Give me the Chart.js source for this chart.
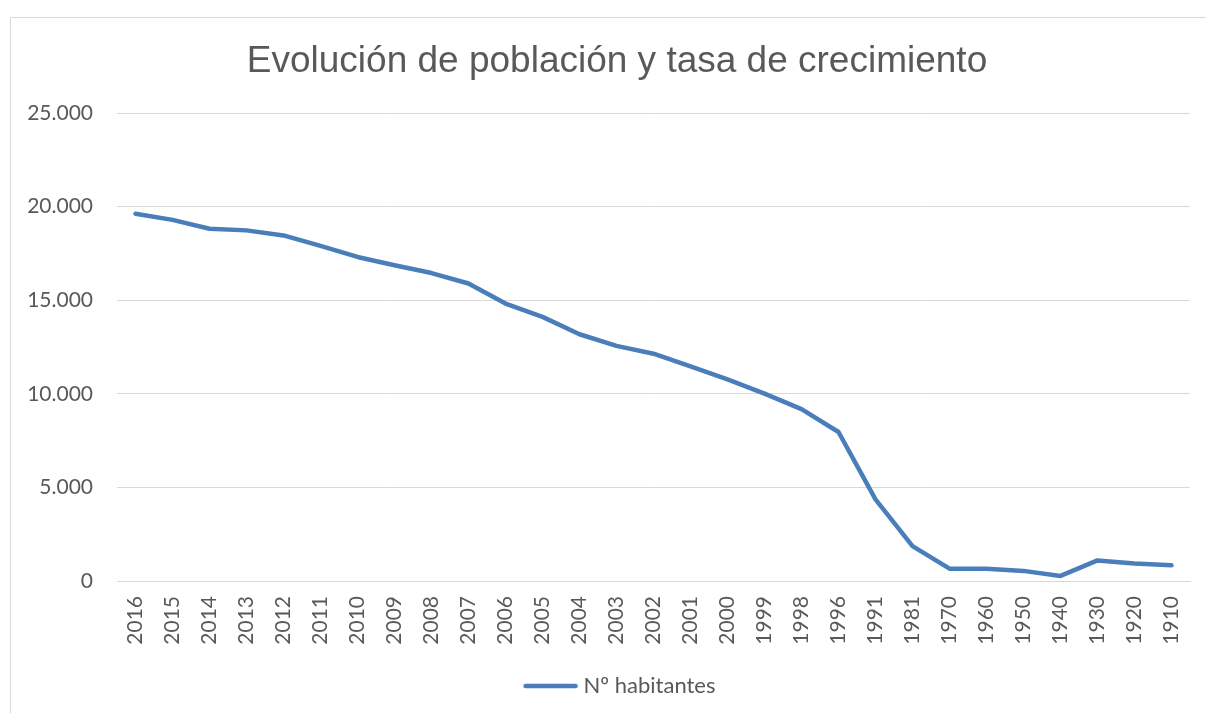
<!DOCTYPE html>
<html>
<head>
<meta charset="utf-8">
<title>Evolución de población</title>
<script src="https://cdn.jsdelivr.net/npm/chart.js@4.4.1/dist/chart.umd.min.js"></script>
<style>
    html, body { margin: 0; padding: 0; background: #fff; overflow: hidden; }
    #wrap {
        position: absolute; left: 10px; top: 17px;
        width: 1212px; height: 700px;
        border: 1px solid #d9d9d9;
    }
</style>
</head>
<body>
<div id="wrap"><canvas id="chart" width="1212" height="700"></canvas></div>
<script>
// Datos
var years = ['2016', '2015', '2014', '2013', '2012', '2011', '2010', '2009', '2008', '2007',
             '2006', '2005', '2004', '2003', '2002', '2001', '2000', '1999', '1998', '1996',
             '1991', '1981', '1970', '1960', '1950', '1940', '1930', '1920', '1910'];
var habitantes = [19620, 19290, 18820, 18730, 18460, 17900, 17310, 16870, 16450, 15890,
                  14820, 14110, 13180, 12560, 12140, 11470, 10770, 10010, 9180, 7960,
                  4360, 1860, 660, 650, 540, 270, 1100, 930, 840];
var yTicks = [0, 5000, 10000, 15000, 20000, 25000];

var textColor = '#595959';
var gridColor = '#d9d9d9';
var lineColor = '#4a7ebb';

function fmtMiles(v) {
    return String(v).replace(/\B(?=(\d{3})+(?!\d))/g, '.');
}

// muestra de leyenda: linea desplazada a la derecha para pegarla al texto
var legendLine = document.createElement('canvas');
legendLine.width = 66;
legendLine.height = 8;
(function () {
    var c = legendLine.getContext('2d');
    c.strokeStyle = lineColor;
    c.lineWidth = 4.5;
    c.lineCap = 'round';
    c.beginPath();
    c.moveTo(13, 4);
    c.lineTo(63, 4);
    c.stroke();
})();

new Chart(document.getElementById('chart').getContext('2d'), {
    type: 'line',
    data: {
        labels: years,
        datasets: [{
            label: 'Nº habitantes',
            data: habitantes,
            borderColor: lineColor,
            backgroundColor: lineColor,
            borderWidth: 4.5,
            borderCapStyle: 'round',
            borderJoinStyle: 'round',
            pointRadius: 0,
            tension: 0,
            fill: false
        }]
    },
    options: {
        responsive: false,
        animation: false,
        layout: { padding: { left: 0, right: 0, top: 0, bottom: 11 } },
        plugins: {
            title: {
                display: true,
                text: 'Evolución de población y tasa de crecimiento',
                color: textColor,
                font: { family: '"Liberation Sans", Arial, sans-serif', size: 37, weight: 'normal' },
                padding: { top: 22, bottom: 28.6 }
            },
            legend: {
                position: 'bottom',
                labels: {
                    color: textColor,
                    font: { family: 'Lato, sans-serif', size: 22 },
                    usePointStyle: true,
                    pointStyle: legendLine,
                    pointStyleWidth: 54,
                    boxHeight: 22,
                    padding: 9
                }
            },
            tooltip: { enabled: false }
        },
        scales: {
            x: {
                offset: true,
                grid: { display: false, drawTicks: false },
                border: { display: true, color: gridColor, width: 1 },
                ticks: {
                    color: textColor,
                    font: { family: 'Lato, sans-serif', size: 21 },
                    autoSkip: false,
                    minRotation: 90,
                    maxRotation: 90,
                    padding: 15
                },
                afterFit: function (scale) { scale.height = 85; }
            },
            y: {
                min: 0,
                max: 25000,
                afterBuildTicks: function (scale) {
                    scale.ticks = yTicks.map(function (v) { return { value: v }; });
                },
                grid: { color: gridColor, lineWidth: 1, drawTicks: false },
                border: { display: false },
                ticks: {
                    color: textColor,
                    font: { family: 'Lato, sans-serif', size: 21 },
                    padding: 24,
                    callback: function (v) { return fmtMiles(v); }
                },
                afterFit: function (scale) { scale.width = 106; }
            },
            // eje vacio a la derecha: deja margen sin descentrar titulo y leyenda
            yRight: {
                position: 'right',
                grid: { display: false, drawTicks: false },
                border: { display: false },
                ticks: { display: false },
                afterFit: function (scale) { scale.width = 33; }
            }
        }
    }
});
</script>
</body>
</html>
